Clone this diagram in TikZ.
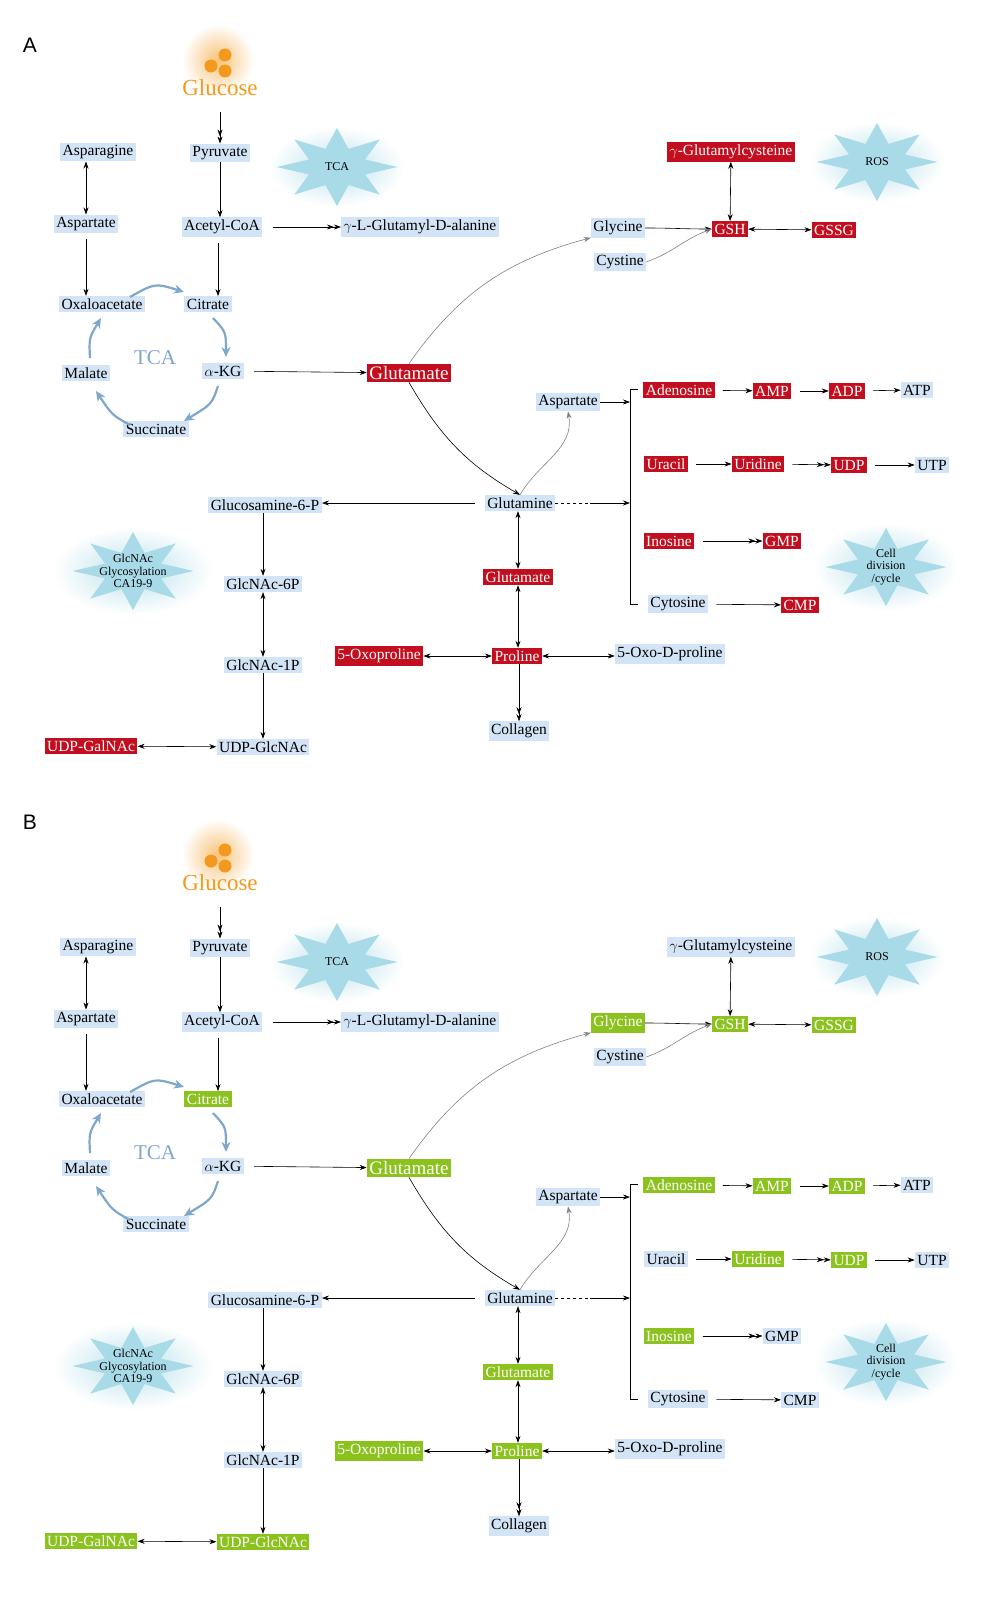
\documentclass[tikz,border=0pt]{standalone}
\usepackage{fontspec}
\setmainfont{Liberation Serif}
\newfontfamily\sansf{Liberation Sans}
\usetikzlibrary{arrows.meta,shapes.geometric}
\definecolor{boxblue}{HTML}{D2E4F5}
\definecolor{hired}{HTML}{C20E1E}
\definecolor{higreen}{HTML}{8CC21E}
\definecolor{starblue}{HTML}{A9DAE8}
\definecolor{tcablue}{HTML}{7FA7CB}
\definecolor{glcorange}{HTML}{F39A1E}
\makeatletter
\tikzset{
  box/.style={fill=boxblue,inner sep=2.5pt,font=\fontsize{15.5}{16}\selectfont},
  hi/.style={fill=\hicol,text=white},
  c/.code={\pgfkeysalso{box}\edef\tmp{\noexpand\in@{,#1,}{,\hlset,}}\tmp\ifin@\pgfkeysalso{hi}\fi},
  link/.style={-{Stealth[length=7pt,width=5pt]},semithick},
  dlink/.style={-{Stealth[length=7pt,width=5pt]Stealth[length=7pt,width=5pt]},semithick},
  both/.style={{Stealth[length=7pt,width=5pt]}-{Stealth[length=7pt,width=5pt]},semithick},
  cyc/.style={-{Stealth[length=10pt,width=9pt]},tcablue,line width=2.2pt},
  burst/.style={star,star points=8,star point ratio=2,fill=starblue,minimum size=78pt,xscale=1.55,inner sep=0pt},
  burstlbl/.style={font=\fontsize{12}{12.5}\selectfont,align=center},
}
\makeatother
% one panel of the pathway map
\newcommand\pathway[2]{%
\begin{scope}[yshift=#2]
  % glows
  \shade[inner color=starblue!80,outer color=white] (337,167) ellipse (68 and 40);
  \node[burst] (#1tca) at (337,167) {};
  \node[burstlbl] at (337,167) {TCA};
  \shade[inner color=starblue!80,outer color=white] (877,162) ellipse (68 and 40);
  \node[burst] (#1ros) at (877,162) {};
  \node[burstlbl] at (877,162) {ROS};
  \shade[inner color=starblue!80,outer color=white] (133,571) ellipse (80 and 44);
  \node[burst] (#1glyc) at (133,571) {};
  \node[burstlbl] at (133,571) {GlcNAc\\Glycosylation\\CA19-9};
  \shade[inner color=starblue!80,outer color=white] (886,567) ellipse (72 and 44);
  \node[burst] (#1cell) at (886,567) {};
  \node[burstlbl] at (886,567) {Cell\\division\\/cycle};
  \shade[inner color=glcorange!60,outer color=white] (218,60) circle (36);
  \fill[glcorange] (211,66) circle (6.5) (225,55) circle (6.5) (225,71) circle (6.5);
  \node[text=glcorange,font=\fontsize{23}{24}\selectfont] (#1glc) at (220,88) {Glucose};
  % left column
  \node[c=asn] (#1asn) at (98,152) {Asparagine};
  \node[c=pyr] (#1pyr) at (220,153) {Pyruvate};
  \node[c=asp] (#1asp) at (86,224) {Aspartate};
  \node[c=acoa] (#1acoa) at (222,227) {Acetyl-CoA};
  \node[c=gla] (#1gla) at (420,227) {$\gamma$-L-Glutamyl-D-alanine};
  \node[c=oaa] (#1oaa) at (102,304) {Oxaloacetate};
  \node[c=cit] (#1cit) at (208,304) {Citrate};
  \node[text=tcablue,font=\fontsize{21}{22}\selectfont] at (155,358) {TCA};
  \node[c=mal] (#1mal) at (86,373) {Malate};
  \node[c=akg] (#1akg) at (223,371) {$\alpha$-KG};
  \node[c=suc] (#1suc) at (156,429) {Succinate};
  \node[c=glu,font=\fontsize{19}{20}\selectfont] (#1glu) at (409,373) {Glutamate};
  % glutathione
  \node[c=ggc] (#1ggc) at (731,152) {$\gamma$-Glutamylcysteine};
  \node[c=gly] (#1gly) at (618,228) {Glycine};
  \node[c=cys] (#1cys) at (620,262) {Cystine};
  \node[c=gsh] (#1gsh) at (730,229) {GSH};
  \node[c=gssg] (#1gssg) at (834,230) {GSSG};
  % nucleotides
  \node[c=aspb] (#1aspb) at (568,402) {Aspartate};
  \node[c=ado] (#1ado) at (679,390) {Adenosine};
  \node[c=amp] (#1amp) at (772,391) {AMP};
  \node[c=adp] (#1adp) at (847,391) {ADP};
  \node[c=atp] (#1atp) at (917,390) {ATP};
  \node[c=ura] (#1ura) at (666,464) {Uracil};
  \node[c=urd] (#1urd) at (758,464) {Uridine};
  \node[c=udp] (#1udp) at (849,465) {UDP};
  \node[c=utp] (#1utp) at (932,465) {UTP};
  \node[c=ino] (#1ino) at (669,541) {Inosine};
  \node[c=gmp] (#1gmp) at (782,541) {GMP};
  \node[c=cyt] (#1cyt) at (678,604) {Cytosine};
  \node[c=cmp] (#1cmp) at (800,605) {CMP};
  % glutamine branch
  \node[c=gln] (#1gln) at (520,503) {Glutamine};
  \node[c=g6p] (#1g6p) at (265,505) {Glucosamine-6-P};
  \node[c=n6p] (#1n6p) at (263,584) {GlcNAc-6P};
  \node[c=glub] (#1glub) at (518,577) {Glutamate};
  \node[c=n1p] (#1n1p) at (263,665) {GlcNAc-1P};
  \node[c=oxo] (#1oxo) at (379,656) {5-Oxoproline};
  \node[c=pro] (#1pro) at (517,656) {Proline};
  \node[c=oxod] (#1oxod) at (670,654) {5-Oxo-D-proline};
  \node[c=col] (#1col) at (519,731) {Collagen};
  \node[c=galn] (#1galn) at (91,746) {UDP-GalNAc};
  \node[c=glcn] (#1glcn) at (263,747) {UDP-GlcNAc};
  % connectors
  \draw[dlink] ([yshift=-12pt]#1glc.south -| #1pyr) -- (#1pyr);
  \draw[both] (#1asn.south -| #1asp) -- (#1asp);
  \draw[link,shorten <=6pt] (#1asp) -- (#1asp |- #1oaa.north);
  \draw[link] (#1pyr.south) -- (#1pyr.south |- #1acoa.north);
  \draw[link,shorten <=6pt] ([xshift=-4pt]#1acoa.south) -- ([xshift=-4pt]#1acoa.south |- #1cit.north);
  \draw[dlink,shorten <=10pt] (#1acoa) -- (#1acoa -| #1gla.west);
  \draw[link,shorten <=10pt] (#1akg) -- (#1glu);
  % TCA cycle
  \draw[cyc] (130,297) .. controls (155,283) .. (184,292);
  \draw[cyc] (213,318) .. controls (226,332) .. (226,357);
  \draw[cyc] (218,386) .. controls (212,404) .. (184,421);
  \draw[cyc] (130,425) .. controls (112,415) .. (96,391);
  \draw[cyc] (90,358) .. controls (89,338) .. (101,318);
  \draw[link,gray] (#1glu.north) to[out=55,in=195] (#1gly.south west);
  \draw[link] (#1glu.south) to[out=-60,in=150] (#1gln.north);
  \draw[link,gray] (#1gln.north) to[out=60,in=-80] (#1aspb.south);
  \draw[link] (#1gly.east) to[out=0,in=180] (#1gsh.west);
  \draw[link,gray] (#1cys.east) to[out=20,in=200] (#1gsh.west);
  \draw[both] (#1gsh) -- (#1ggc);
  \draw[both] (#1gsh) -- (#1gssg);
  \coordinate (#1top) at (630,389);
  \coordinate (#1bot) at (630,604);
  \draw[semithick] ([xshift=8pt]#1top) -- (#1top) -- (#1bot) -- ([xshift=8pt]#1bot);
  \draw[link] (#1aspb.east) -- (#1aspb.east -| #1top);
  \draw[dashed,semithick] (#1gln.east) -- ++(35,0) coordinate (#1dash);
  \draw[link] (#1dash) -- (#1gln.east -| #1top);
  \draw[link,shorten <=8pt] (#1ado) -- (#1amp);
  \draw[link,shorten <=8pt] (#1amp) -- (#1adp);
  \draw[link,shorten <=8pt] (#1adp) -- (#1atp);
  \draw[link,shorten <=8pt] (#1ura) -- (#1urd);
  \draw[dlink,shorten <=8pt] (#1urd) -- (#1udp);
  \draw[link,shorten <=8pt] (#1udp) -- (#1utp);
  \draw[dlink,shorten <=8pt] (#1ino) -- (#1gmp);
  \draw[link,shorten <=8pt] (#1cyt) -- (#1cmp);
  \draw[link,shorten <=10pt] (#1gln) -- (#1gln -| #1g6p.east);
  \draw[link] (#1g6p.south -| #1n6p) -- (#1n6p);
  \draw[both] (#1n6p) -- (#1n1p);
  \draw[link] (#1n1p) -- (#1glcn);
  \draw[both] (#1galn) -- (#1glcn);
  \draw[both] (#1gln.south -| #1glub) -- (#1glub);
  \draw[both] (#1glub) -- (#1glub |- #1pro.north);
  \draw[both] (#1oxo) -- (#1pro);
  \draw[both] (#1pro) -- (#1pro -| #1oxod.west);
  \draw[dlink] (#1pro.south -| #1col) -- (#1col);
\end{scope}}

\begin{document}
\begin{tikzpicture}[x=1pt,y=-1pt]
  \node[font=\sansf\fontsize{21}{22}\selectfont] (lblA) at (30,45) {A};
  \node[font=\sansf\fontsize{21}{22}\selectfont] (lblB) at (30,822) {B};
  \def\hicol{hired}
  \def\hlset{ggc,gsh,gssg,glu,ado,amp,adp,ura,urd,udp,ino,gmp,cmp,glub,oxo,pro,galn}
  \pathway{A}{0pt}
  \def\hicol{higreen}
  \def\hlset{gly,gsh,gssg,cit,glu,ado,amp,adp,urd,udp,ino,glub,oxo,pro,galn,glcn}
  \pathway{B}{-795pt}
  \pgfresetboundingbox
  \useasboundingbox (0,0) rectangle (1007,1600);
\end{tikzpicture}
\end{document}
